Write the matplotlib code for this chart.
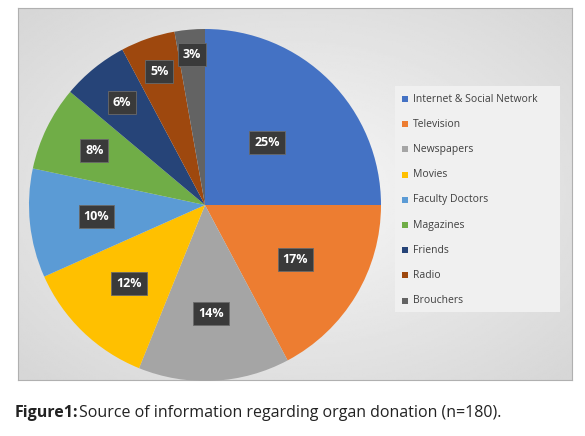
import numpy as np
import matplotlib
matplotlib.use("Agg")
import matplotlib.pyplot as plt
from matplotlib.patches import Rectangle

categories = ["Internet & Social Network", "Television", "Newspapers", "Movies",
              "Faculty Doctors", "Magazines", "Friends", "Radio", "Brouchers"]
counts = [45, 31, 25, 22, 18, 14, 11, 9, 5]
colors = ["#4472c4", "#ed7d31", "#a5a5a5", "#ffc000", "#5b9bd5",
          "#70ad47", "#264478", "#9e480e", "#636363"]

W, H = 585, 436
fig = plt.figure(figsize=(W / 100, H / 100), dpi=100, facecolor="white")

# gradient panel
bg = fig.add_axes([18 / W, 1 - 380 / H, (572 - 18) / W, (380 - 8) / H])
yy, xx = np.mgrid[-1:1:200j, -1:1:300j]
grad = 0.97 - 0.13 * np.clip(np.sqrt(xx ** 2 + yy ** 2) / 1.4, 0, 1)
bg.imshow(grad, cmap="gray", vmin=0, vmax=1, aspect="auto", extent=[0, 1, 0, 1])
bg.set_xticks([]); bg.set_yticks([])
for s in bg.spines.values():
    s.set_color("#b0b0b0")

# pie
cx, cy, r = 205, 205, 176
ax = fig.add_axes([(cx - r) / W, 1 - (cy + r) / H, 2 * r / W, 2 * r / H])
ax.patch.set_alpha(0)
wedges, _ = ax.pie(counts, colors=colors, startangle=90, counterclock=False,
                   wedgeprops=dict(linewidth=0))
ax.set_xlim(-1, 1); ax.set_ylim(-1, 1)
total = sum(counts)
dists = [0.5, 0.6, 0.62, 0.62, 0.62, 0.7, 0.75, 0.8, 0.86]
for w, c, d in zip(wedges, counts, dists):
    ang = np.deg2rad((w.theta1 + w.theta2) / 2)
    x, y = d * np.cos(ang), d * np.sin(ang)
    ax.text(x, y, f"{round(100 * c / total)}%", ha="center", va="center",
            fontsize=9, fontweight="bold", color="white", family="Open Sans",
            bbox=dict(boxstyle="square,pad=0.4", fc="#3a3a3a", ec="#6a6a6a", lw=0.6))
ax.set_aspect("equal")

# legend
lg = fig.add_axes([395 / W, 1 - 312 / H, 165 / W, 226 / H])
lg.set_xlim(0, 165); lg.set_ylim(226, 0); lg.axis("off")
lg.add_patch(Rectangle((0, 0), 165, 226, fc="#f0f0f0", ec="none"))
for i, (lab, col) in enumerate(zip(categories, colors)):
    y = 13 + i * 25.2
    lg.add_patch(Rectangle((7, y - 3), 6, 6, fc=col, ec="none"))
    lg.text(18, y, lab, va="center", fontsize=7.5, color="#404040", family="Open Sans")

fig.text(15 / W, 1 - 413 / H, "Figure1:", fontweight="bold", fontsize=11.5,
         va="center", family="Open Sans", color="#222222")
fig.text(79 / W, 1 - 413 / H, "Source of information regarding organ donation (n=180).",
         fontsize=11.5, va="center", family="Open Sans", color="#222222")

fig.savefig("out.png", dpi=100, facecolor="white")
